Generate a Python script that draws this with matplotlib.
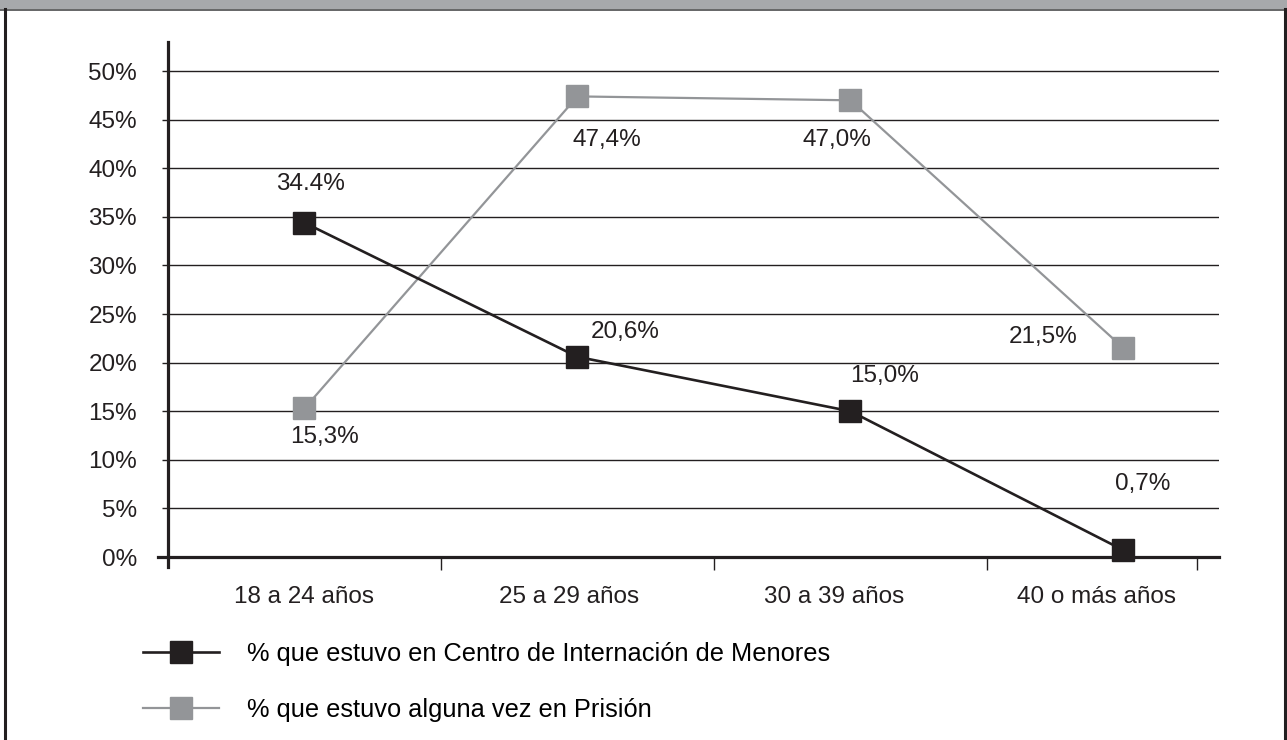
import matplotlib
matplotlib.use("Agg")
import matplotlib.pyplot as plt
from matplotlib.patches import Rectangle
from matplotlib.lines import Line2D

plt.rcParams['font.family'] = ['Liberation Sans', 'DejaVu Sans']

# data
categories = ["18 a 24 años", "25 a 29 años", "30 a 39 años", "40 o más años"]
centro_menores = [34.4, 20.6, 15.0, 0.7]
prision = [15.3, 47.4, 47.0, 21.5]
centro_labels = ["34.4%", "20,6%", "15,0%", "0,7%"]
prision_labels = ["15,3%", "47,4%", "47,0%", "21,5%"]
series_names = ["% que estuvo en Centro de Internación de Menores",
                "% que estuvo alguna vez en Prisión"]
y_ticks = list(range(0, 55, 5))

# layout
BLACK = "#231f20"
GRAY = "#939598"
HEADER = "#a7a9ac"
FS = 17.5
LEG_FS = 18.3
label_pos = [0, 0.97, 1.94, 2.9]          # where the category texts sit
boundaries = [0.5, 1.5, 2.5, 3.27]        # small ticks below the axis
# label offsets in pixels (dx, dy) from each point
centro_off = [(6, 39), (48, 25), (34, 35), (19, 66)]
prision_off = [(20, -29), (29, -44), (-14, -40), (-80, 11)]

W, H = 1287, 740
fig = plt.figure(figsize=(W / 100, H / 100), dpi=100)

ax = fig.add_axes([168 / W, (H - 557) / H, (1219 - 168) / W, (557 - 42) / H])
ax.set_xlim(-0.5, 3.35)
ax.set_ylim(0, 53)

x = range(len(categories))
ax.plot(x, centro_menores, color=BLACK, lw=1.9, marker="s", ms=16.5,
        mfc=BLACK, mec=BLACK, zorder=4, clip_on=False)
ax.plot(x, prision, color=GRAY, lw=1.6, marker="s", ms=16.5,
        mfc=GRAY, mec=GRAY, zorder=3, clip_on=False)

for xi, v, t, (dx, dy) in zip(x, centro_menores, centro_labels, centro_off):
    ax.annotate(t, (xi, v), xytext=(dx, dy), textcoords="offset pixels",
                ha="center", va="center", fontsize=FS, color=BLACK)
for xi, v, t, (dx, dy) in zip(x, prision, prision_labels, prision_off):
    ax.annotate(t, (xi, v), xytext=(dx, dy), textcoords="offset pixels",
                ha="center", va="center", fontsize=FS, color=BLACK)

# grid and axes
ax.set_yticks(y_ticks)
ax.set_yticklabels([f"{v}%" for v in y_ticks], fontsize=FS, color=BLACK)
for v in y_ticks[1:]:
    ax.axhline(v, color=BLACK, lw=1.0, zorder=1)
ax.tick_params(axis="y", length=4.3, width=1.0, color=BLACK, pad=18)

ax.set_xticks(label_pos)
ax.set_xticklabels(categories, fontsize=FS, color=BLACK)
ax.tick_params(axis="x", which="major", length=0, pad=21)
ax.set_xticks(boundaries, minor=True)
ax.tick_params(axis="x", which="minor", length=9.5, width=1.0, color=BLACK)

for s in ("top", "right"):
    ax.spines[s].set_visible(False)
ax.spines["left"].set_linewidth(2.3)
ax.spines["bottom"].set_linewidth(2.3)
ax.spines["left"].set_color(BLACK)
ax.spines["bottom"].set_color(BLACK)
ax.spines["left"].set_bounds(-1.0, 53)
ax.spines["bottom"].set_bounds(-0.537, 3.35)

# legend
handles = [Line2D([], [], color=BLACK, lw=1.9, marker="s", ms=16.5, mfc=BLACK, mec=BLACK),
           Line2D([], [], color=GRAY, lw=1.6, marker="s", ms=16.5, mfc=GRAY, mec=GRAY)]
fig.legend(handles, series_names, loc="upper left", bbox_to_anchor=(143 / W, (H - 642) / H),
           frameon=False, fontsize=LEG_FS, handlelength=3.0, handletextpad=1.1,
           labelspacing=1.25, borderpad=0, borderaxespad=0)

# header band and frame
fig.patches.append(Rectangle((0, (H - 9) / H), 1, 9 / H, transform=fig.transFigure,
                             facecolor=HEADER, edgecolor="none", zorder=0))
fig.lines.append(Line2D([0, 1], [(H - 9.5) / H] * 2, transform=fig.transFigure, color="#58595b", lw=1.3))
fig.lines.append(Line2D([4.5 / W] * 2, [0, (H - 9) / H], transform=fig.transFigure, color=BLACK, lw=2.2))
fig.lines.append(Line2D([1284.5 / W] * 2, [0, (H - 9) / H], transform=fig.transFigure, color=BLACK, lw=2.2))

fig.savefig("out.png", dpi=100)
